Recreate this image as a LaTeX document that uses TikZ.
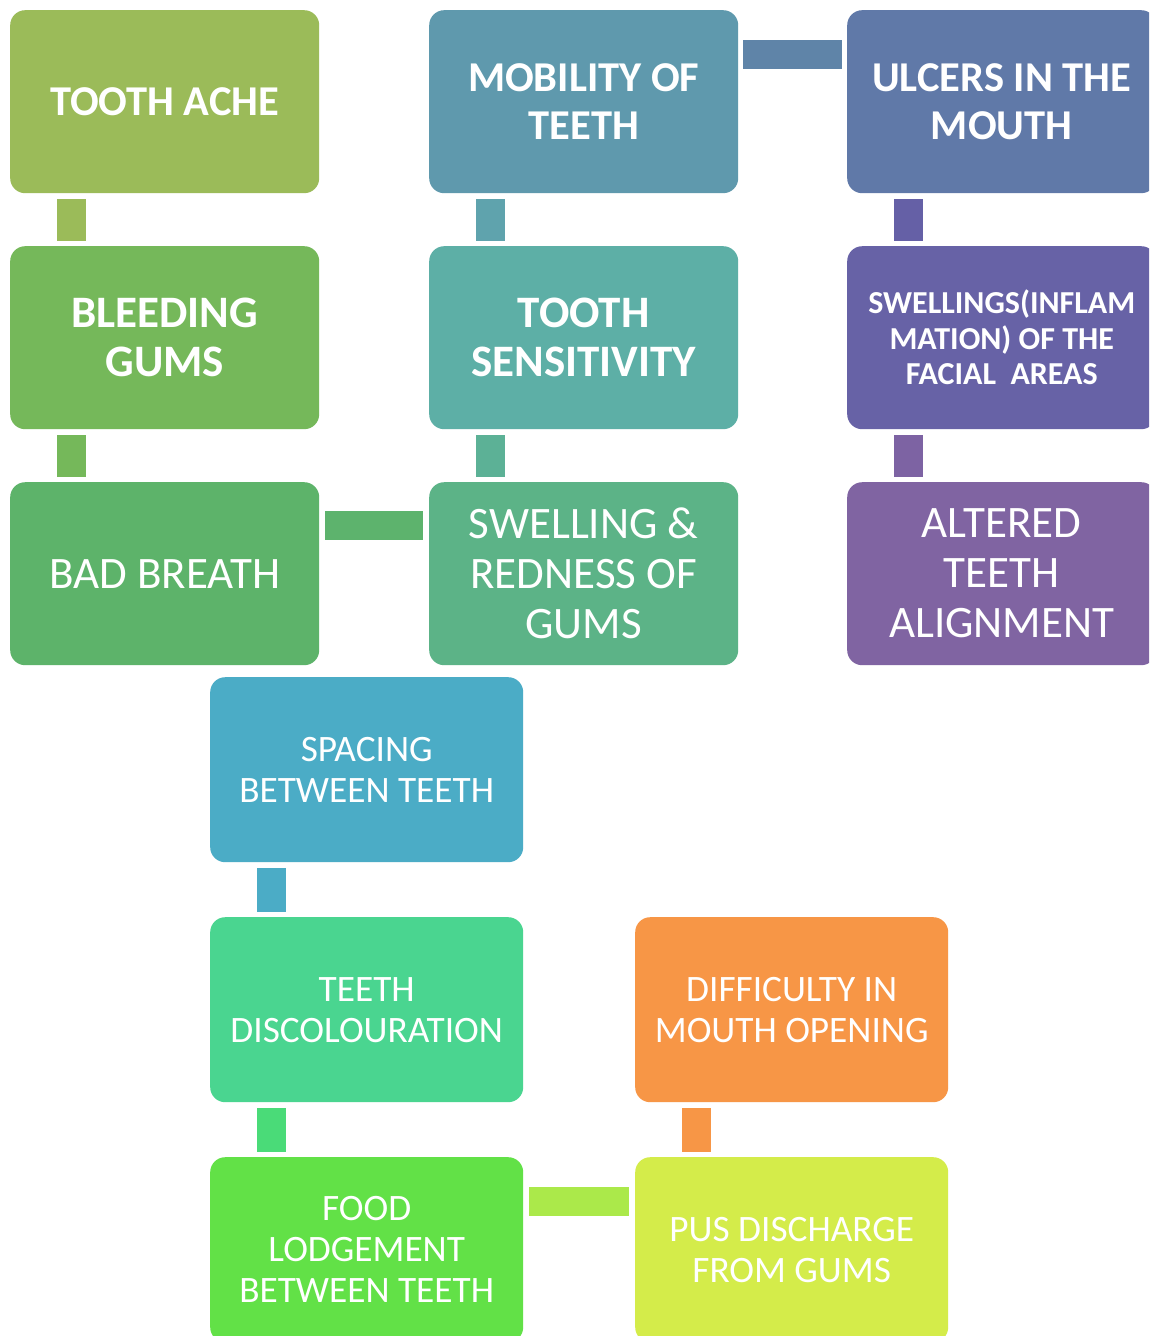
\documentclass[tikz,border=0pt]{standalone}
\usepackage{fontspec}
\setmainfont{Carlito}
\usetikzlibrary{positioning}

% box fills
\definecolor{cAche}{HTML}{9BBB59}
\definecolor{cBleed}{HTML}{75B85A}
\definecolor{cBreath}{HTML}{5DB36A}
\definecolor{cMobil}{HTML}{5F99AD}
\definecolor{cSens}{HTML}{5DAFA6}
\definecolor{cRedn}{HTML}{5CB387}
\definecolor{cUlcer}{HTML}{6079A8}
\definecolor{cFacial}{HTML}{6762A6}
\definecolor{cAlign}{HTML}{8064A2}
\definecolor{cSpace}{HTML}{4BACC6}
\definecolor{cDiscol}{HTML}{4AD590}
\definecolor{cFood}{HTML}{62E147}
\definecolor{cOpen}{HTML}{F79646}
\definecolor{cPus}{HTML}{D4EC4A}
% connector fills
\definecolor{kMobUlc}{HTML}{5F84A8}
\definecolor{kMobSens}{HTML}{5FA3AD}
\definecolor{kSensRed}{HTML}{5CB196}
\definecolor{kUlcFac}{HTML}{6560A6}
\definecolor{kFacAl}{HTML}{7D63A3}
\definecolor{kBrRed}{HTML}{5DB36D}
\definecolor{kDisFood}{HTML}{4ADB78}
\definecolor{kFoodPus}{HTML}{ABE94A}

\tikzset{
  box/.style={rounded corners=15pt, minimum width=309pt, minimum height=183pt,
    inner sep=0pt, text=white, align=center, anchor=north west},
  widebox/.style={box, minimum width=313pt, minimum height=185pt},
  big/.style={font=\fontsize{42.5}{47.5}\selectfont\bfseries},
  bigger/.style={font=\fontsize{45}{49}\selectfont\bfseries},
  small/.style={font=\fontsize{32}{35.5}\selectfont\bfseries},
  mid/.style={font=\fontsize{45}{50}\selectfont},
  low/.style={font=\fontsize{37.3}{41}\selectfont},
  link/.style={line width=29pt, line cap=butt},
  vlink/.style={link, shorten <=6pt, shorten >=5pt},
  hlink/.style={link, shorten <=5pt, shorten >=5pt},
}

\begin{document}
\begin{tikzpicture}[x=1pt, y=-1pt]
\useasboundingbox (0,0) rectangle (1149,1336);
\clip (0,0) rectangle (1149,1336);
\fill[white] (0,0) rectangle (1149,1336);

% upper grid of symptom boxes
\node[box, big, fill=cAche]   (ache)   at (10,10)  {TOOTH ACHE};
\node[box, bigger, fill=cBleed]  (bleed)  at (10,246) {BLEEDING\\GUMS};
\node[box, mid, fill=cBreath] (breath) at (10,482) {BAD BREATH};

\node[box, big, fill=cMobil]  (mobil)  at (429,10)  {MOBILITY OF\\TEETH};
\node[box, bigger, fill=cSens]   (sens)   at (429,246) {TOOTH\\SENSITIVITY};
\node[box, mid, fill=cRedn]   (redn)   at (429,482) {SWELLING \&\\REDNESS OF\\GUMS};

\node[box, big, fill=cUlcer]  (ulcer)  at (847,10)  {ULCERS IN THE\\MOUTH};
\node[box, small, fill=cFacial] (facial) at (847,246) {SWELLINGS(INFLAM\\MATION) OF THE\\FACIAL\ \ AREAS};
\node[box, mid, fill=cAlign]  (align)  at (847,482) {ALTERED\\TEETH\\ALIGNMENT};

% lower group
\node[widebox, low, fill=cSpace]  (space)  at (210,677)  {SPACING\\BETWEEN TEETH};
\node[widebox, low, fill=cDiscol] (discol) at (210,917)  {TEETH\\DISCOLOURATION};
\node[widebox, low, fill=cFood]   (food)   at (210,1157) {FOOD\\LODGEMENT\\BETWEEN TEETH};
\node[widebox, low, fill=cOpen]   (open)   at (635,917)  {DIFFICULTY IN\\MOUTH OPENING};
\node[widebox, low, fill=cPus]    (pus)    at (635,1157) {PUS DISCHARGE\\FROM GUMS};

% vertical links
\draw[vlink, cAche]   ([xshift=61.5pt]ache.south west)   -- ([xshift=61.5pt]bleed.north west);
\draw[vlink, cBleed]  ([xshift=61.5pt]bleed.south west)  -- ([xshift=61.5pt]breath.north west);
\draw[vlink, kMobSens]([xshift=61.5pt]mobil.south west)  -- ([xshift=61.5pt]sens.north west);
\draw[vlink, kSensRed]([xshift=61.5pt]sens.south west)   -- ([xshift=61.5pt]redn.north west);
\draw[vlink, kUlcFac] ([xshift=61.5pt]ulcer.south west)  -- ([xshift=61.5pt]facial.north west);
\draw[vlink, kFacAl]  ([xshift=61.5pt]facial.south west) -- ([xshift=61.5pt]align.north west);
\draw[vlink, cSpace]  ([xshift=61.5pt]space.south west)  -- ([xshift=61.5pt]discol.north west);
\draw[vlink, kDisFood]([xshift=61.5pt]discol.south west) -- ([xshift=61.5pt]food.north west);
\draw[vlink, cOpen]   ([xshift=61.5pt]open.south west)   -- ([xshift=61.5pt]pus.north west);

% horizontal links
\draw[hlink, kMobUlc] ([yshift=-44pt]mobil.north east) -- ([yshift=-44pt]ulcer.north west);
\draw[hlink, kBrRed, shorten <=6pt, shorten >=6pt] ([yshift=-43.5pt]breath.north east) -- ([yshift=-43.5pt]redn.north west);
\draw[hlink, kFoodPus, shorten <=6pt, shorten >=6pt] ([yshift=-44.5pt]food.north east) -- ([yshift=-44.5pt]pus.north west);
\end{tikzpicture}
\end{document}
